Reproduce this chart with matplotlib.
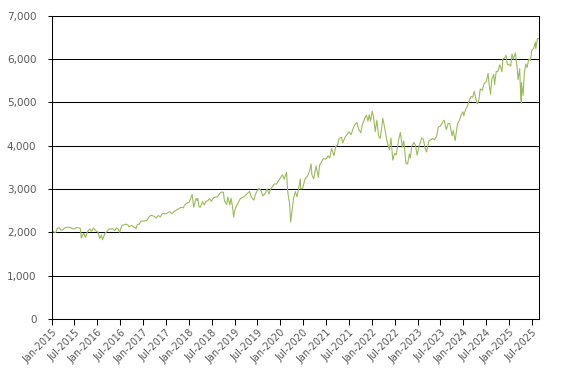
import numpy as np
import pandas as pd
import matplotlib
matplotlib.use("Agg")
import matplotlib.pyplot as plt
import matplotlib.dates as mdates
from matplotlib.ticker import FuncFormatter, MultipleLocator

# Valores (índice, aprox. quincenal + extremos)
fechas_2015 = ["2015-01-02", "2015-01-15", "2015-02-02", "2015-02-15", "2015-03-02", "2015-03-16",
               "2015-04-01", "2015-04-15", "2015-05-01", "2015-05-15", "2015-06-01", "2015-06-15",
               "2015-07-01", "2015-07-15", "2015-08-03", "2015-08-17", "2015-08-25", "2015-09-01",
               "2015-09-15", "2015-09-29", "2015-10-15", "2015-11-02", "2015-11-16", "2015-12-01",
               "2015-12-15"]
valores_2015 = [2058, 2011, 1995, 2096, 2104, 2053, 2060, 2106, 2108, 2122, 2111, 2084,
                2077, 2108, 2104, 2092, 1868, 1914, 1978, 1884, 2023, 2079, 2023, 2102, 2043]

fechas_2016 = ["2016-01-04", "2016-01-20", "2016-02-01", "2016-02-11", "2016-03-01", "2016-03-15",
               "2016-04-01", "2016-04-15", "2016-05-02", "2016-05-19", "2016-06-01", "2016-06-15",
               "2016-06-27", "2016-07-05", "2016-07-15", "2016-08-01", "2016-08-15", "2016-09-01",
               "2016-09-09", "2016-10-03", "2016-10-17", "2016-11-04", "2016-11-15", "2016-12-01",
               "2016-12-15"]
valores_2016 = [2012, 1859, 1940, 1829, 1978, 2015, 2072, 2081, 2081, 2040, 2099, 2071,
                2000, 2088, 2161, 2170, 2190, 2170, 2128, 2161, 2126, 2085, 2180, 2191, 2262]

fechas_2017 = ["2017-01-03", "2017-01-17", "2017-02-01", "2017-02-15", "2017-03-01", "2017-03-15",
               "2017-04-03", "2017-04-13", "2017-05-01", "2017-05-17", "2017-06-01", "2017-06-15",
               "2017-07-03", "2017-07-17", "2017-08-01", "2017-08-17", "2017-09-01", "2017-09-15",
               "2017-10-02", "2017-10-16", "2017-11-01", "2017-11-15", "2017-12-01", "2017-12-15"]
valores_2017 = [2258, 2268, 2279, 2350, 2395, 2385, 2359, 2329, 2388, 2357, 2430, 2432,
                2429, 2459, 2476, 2430, 2476, 2500, 2529, 2557, 2579, 2564, 2642, 2675]

fechas_2018 = ["2018-01-02", "2018-01-15", "2018-01-26", "2018-02-08", "2018-02-26", "2018-03-08",
               "2018-03-12", "2018-03-23", "2018-04-02", "2018-04-18", "2018-05-03", "2018-05-15",
               "2018-06-01", "2018-06-15", "2018-06-28", "2018-07-16", "2018-08-01", "2018-08-15",
               "2018-09-04", "2018-09-20", "2018-10-03", "2018-10-11", "2018-10-29", "2018-11-07",
               "2018-11-23", "2018-12-03", "2018-12-14", "2018-12-24"]
valores_2018 = [2695, 2786, 2873, 2581, 2780, 2738, 2783, 2588, 2582, 2708, 2630, 2711,
                2734, 2779, 2716, 2798, 2813, 2818, 2896, 2930, 2925, 2728, 2641, 2814,
                2633, 2790, 2600, 2351]

fechas_2019 = ["2019-01-02", "2019-01-15", "2019-02-01", "2019-02-15", "2019-03-01", "2019-03-15",
               "2019-04-01", "2019-04-15", "2019-04-30", "2019-05-13", "2019-06-03", "2019-06-17",
               "2019-07-01", "2019-07-15", "2019-08-01", "2019-08-14", "2019-09-03", "2019-09-16",
               "2019-10-02", "2019-10-15", "2019-11-01", "2019-11-15", "2019-12-02", "2019-12-16"]
valores_2019 = [2510, 2610, 2706, 2775, 2803, 2822, 2867, 2905, 2946, 2812, 2744, 2889,
                2964, 3014, 2953, 2840, 2906, 3007, 2887, 2995, 3066, 3120, 3113, 3191]

fechas_2020 = ["2020-01-02", "2020-01-17", "2020-01-31", "2020-02-19", "2020-02-28", "2020-03-09",
               "2020-03-13", "2020-03-23", "2020-04-01", "2020-04-15", "2020-04-29", "2020-05-13",
               "2020-06-08", "2020-06-11", "2020-06-26", "2020-07-15", "2020-08-03", "2020-08-17",
               "2020-09-02", "2020-09-08", "2020-09-23", "2020-10-12", "2020-10-30", "2020-11-09",
               "2020-11-25", "2020-12-08", "2020-12-21"]
valores_2020 = [3258, 3330, 3225, 3386, 2954, 2746, 2711, 2237, 2470, 2783, 2939, 2820,
                3232, 3002, 3009, 3226, 3295, 3381, 3580, 3331, 3237, 3534, 3270, 3550,
                3630, 3702, 3694]

fechas_2021 = ["2021-01-04", "2021-01-15", "2021-01-29", "2021-02-12", "2021-03-04", "2021-03-17",
               "2021-04-01", "2021-04-15", "2021-05-03", "2021-05-12", "2021-06-01", "2021-06-15",
               "2021-07-01", "2021-07-19", "2021-08-02", "2021-08-16", "2021-09-02", "2021-09-20",
               "2021-10-04", "2021-10-15", "2021-11-01", "2021-11-18", "2021-11-30", "2021-12-10",
               "2021-12-20"]
valores_2021 = [3701, 3768, 3714, 3934, 3768, 3974, 4020, 4170, 4192, 4063, 4202, 4255,
                4319, 4258, 4387, 4480, 4537, 4358, 4300, 4471, 4613, 4704, 4567, 4712, 4568]

fechas_2022 = ["2022-01-03", "2022-01-14", "2022-01-27", "2022-02-09", "2022-02-23", "2022-03-08",
               "2022-03-29", "2022-04-14", "2022-04-29", "2022-05-20", "2022-06-02", "2022-06-16",
               "2022-07-01", "2022-07-14", "2022-08-01", "2022-08-16", "2022-09-01", "2022-09-12",
               "2022-09-30", "2022-10-12", "2022-10-27", "2022-11-03", "2022-11-15", "2022-12-01",
               "2022-12-13", "2022-12-28"]
valores_2022 = [4796, 4662, 4326, 4587, 4225, 4170, 4631, 4392, 4132, 3901, 4176, 3666,
                3825, 3790, 4119, 4305, 3966, 4110, 3585, 3577, 3807, 3720, 3991, 4076,
                4019, 3783]

fechas_2023 = ["2023-01-13", "2023-02-02", "2023-02-15", "2023-03-01", "2023-03-13", "2023-03-31",
               "2023-04-14", "2023-05-01", "2023-05-15", "2023-06-01", "2023-06-15", "2023-06-30",
               "2023-07-31", "2023-08-18", "2023-09-01", "2023-09-14", "2023-10-03", "2023-10-12",
               "2023-10-27", "2023-11-15", "2023-12-01", "2023-12-15", "2023-12-28"]
valores_2023 = [3999, 4179, 4147, 3951, 3855, 4109, 4137, 4167, 4136, 4221, 4425, 4450,
                4589, 4370, 4515, 4505, 4229, 4349, 4117, 4502, 4594, 4719, 4783]

fechas_2024 = ["2024-01-04", "2024-01-19", "2024-02-01", "2024-02-15", "2024-03-01", "2024-03-15",
               "2024-03-28", "2024-04-19", "2024-05-01", "2024-05-15", "2024-05-31", "2024-06-14",
               "2024-07-01", "2024-07-16", "2024-07-25", "2024-08-05", "2024-08-15", "2024-08-30",
               "2024-09-06", "2024-09-19", "2024-10-01", "2024-10-18", "2024-11-04", "2024-11-11",
               "2024-11-29", "2024-12-06", "2024-12-18"]
valores_2024 = [4689, 4840, 4906, 5030, 5137, 5117, 5254, 4967, 5018, 5308, 5277, 5431,
                5475, 5667, 5400, 5186, 5543, 5648, 5408, 5713, 5708, 5864, 5712, 6001,
                6032, 6090, 5872]

fechas_2025 = ["2025-01-02", "2025-01-13", "2025-01-23", "2025-02-03", "2025-02-19", "2025-03-03",
               "2025-03-13", "2025-03-25", "2025-04-04", "2025-04-08", "2025-04-09", "2025-04-21",
               "2025-05-02", "2025-05-13", "2025-05-23", "2025-06-06", "2025-06-20", "2025-06-30",
               "2025-07-15", "2025-07-28", "2025-08-01", "2025-08-14", "2025-08-22", "2025-08-29"]
valores_2025 = [5868, 5837, 6119, 5995, 6144, 5850, 5521, 5776, 5074, 4982, 5457, 5158,
                5687, 5886, 5802, 6000, 5968, 6205, 6244, 6390, 6238, 6469, 6467, 6480]

fechas = pd.to_datetime(fechas_2015 + fechas_2016 + fechas_2017 + fechas_2018 + fechas_2019 +
                        fechas_2020 + fechas_2021 + fechas_2022 + fechas_2023 + fechas_2024 +
                        fechas_2025)
valores = np.array(valores_2015 + valores_2016 + valores_2017 + valores_2018 + valores_2019 +
                   valores_2020 + valores_2021 + valores_2022 + valores_2023 + valores_2024 +
                   valores_2025)

# Figura
fig = plt.figure(figsize=(5.67, 3.83), dpi=100)
ax = fig.add_axes([51.7 / 567, 1 - 319 / 383, (539.3 - 51.7) / 567, (319 - 15.7) / 383])

ax.plot(fechas, valores, color="#9BBB59", linewidth=0.8)

ax.set_ylim(0, 7000)
ax.set_xlim(pd.Timestamp("2015-01-01"), pd.Timestamp("2025-08-29"))
ax.yaxis.set_major_locator(MultipleLocator(1000))
ax.yaxis.set_major_formatter(FuncFormatter(lambda v, p: f"{int(v):,}"))
ax.grid(axis="y", color="black", linewidth=0.75)
ax.set_axisbelow(True)

ax.xaxis.set_major_locator(mdates.MonthLocator(bymonth=[1, 7]))
ax.xaxis.set_major_formatter(mdates.DateFormatter("%b-%Y"))

for lado in ["left", "right", "bottom"]:
    ax.spines[lado].set_color("black")
    ax.spines[lado].set_linewidth(0.75)
ax.spines["top"].set_visible(False)

ax.tick_params(axis="x", direction="out", length=4, width=0.75, color="black",
               labelsize=7, labelcolor="#595959", pad=2)
ax.tick_params(axis="y", direction="out", length=3, width=0.75, color="black",
               labelsize=7.5, labelcolor="#595959", pad=8)
plt.setp(ax.get_xticklabels(), rotation=45, ha="right", rotation_mode="anchor")

fig.savefig("out.png", dpi=100)
